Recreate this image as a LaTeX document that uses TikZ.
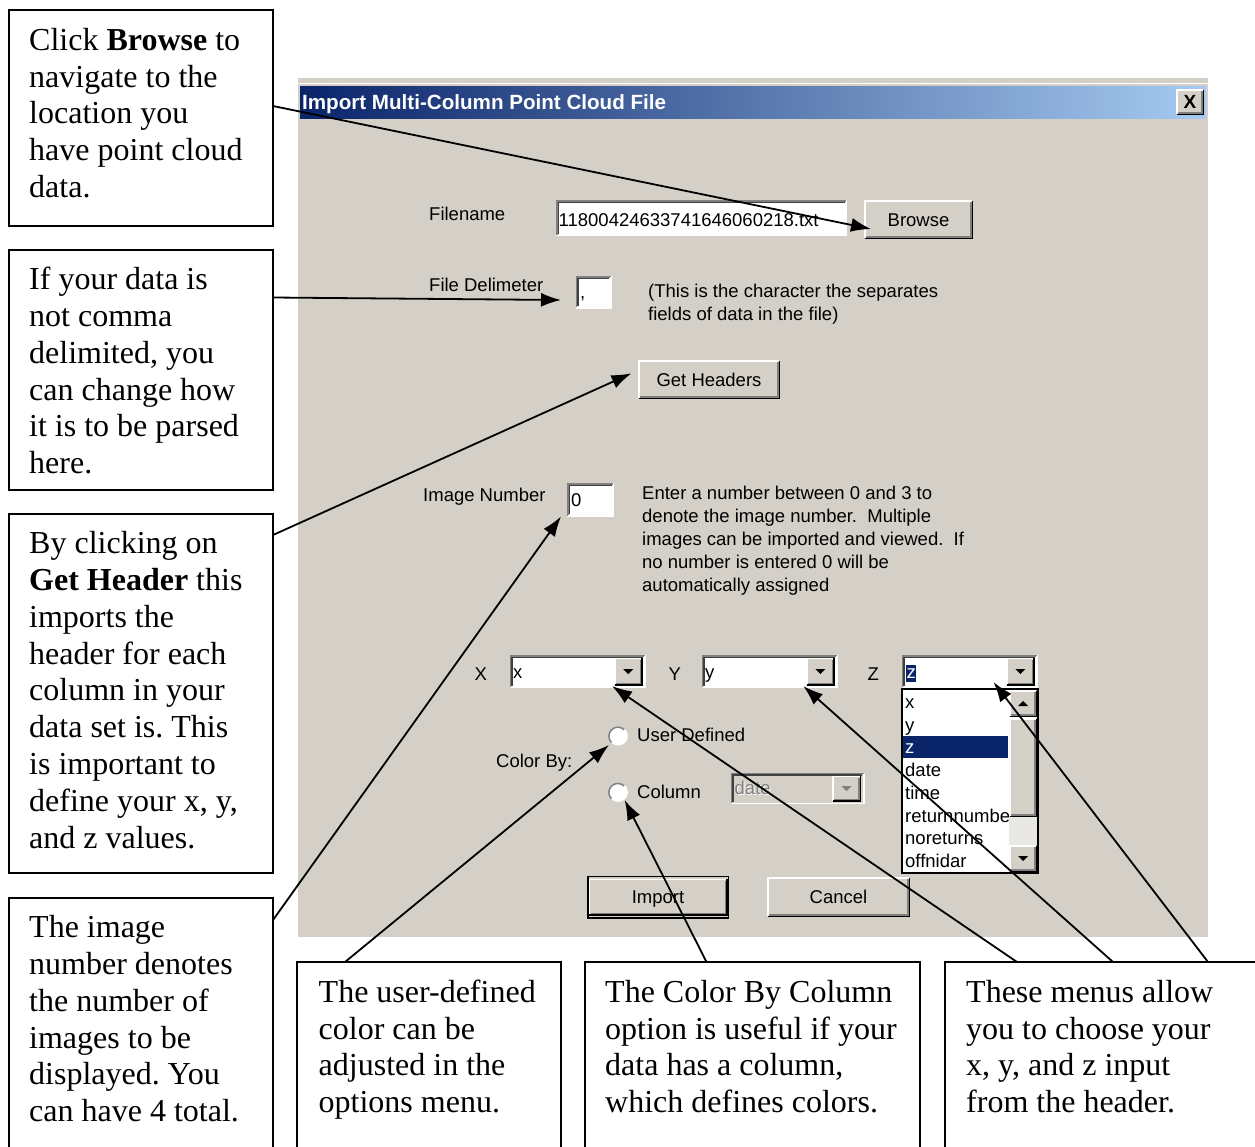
\documentclass[tikz,border=0pt]{standalone}
\usepackage{fontspec}
\setmainfont{Liberation Serif}
\newfontfamily\uifont{Liberation Sans}
\usetikzlibrary{arrows.meta,calc}
\definecolor{winbg}{HTML}{D4D0C8}
\definecolor{winshadow}{HTML}{808080}
\definecolor{windark}{HTML}{404040}
\definecolor{winnavy}{HTML}{0A246A}
\definecolor{winlight}{HTML}{A6CAF0}
\definecolor{winpattern}{HTML}{EAE8E3}
\tikzset{
 callout/.style={draw=black,line width=2pt,fill=white,inner sep=0pt,outer sep=0pt,anchor=north west},
 calltext/.style={anchor=north west,inner sep=0pt,align=left,font=\frenchspacing\fontsize{32}{36.8}\selectfont},
 ui/.style={font=\uifont\fontsize{18.5}{23}\selectfont,inner sep=0pt},
 uitext/.style={ui,anchor=base west},
 wbox/.style={inner sep=0pt,outer sep=0pt},
 btn/.style={wbox,fill=winbg,ui,text height=13.2pt,text depth=0pt},
 pointer/.style={line width=1.8pt,-{Latex[length=20pt,width=14pt]}},
}
\newcommand\winraised[2][0]{%
 \draw[white,line width=1.5pt] ([shift={({0.75+#1},{-0.75-#1})}]#2.south west) -- ([shift={({0.75+#1},{0.75+#1})}]#2.north west) -- ([shift={({-0.75-#1},{0.75+#1})}]#2.north east);
 \draw[black,line width=1.5pt] ([shift={({-0.75-#1},{0.75+#1})}]#2.north east) -- ([shift={({-0.75-#1},{-0.75-#1})}]#2.south east) -- ([shift={({0.75+#1},{-0.75-#1})}]#2.south west);
 \draw[winshadow,line width=1.5pt] ([shift={({-2.25-#1},{2.25+#1})}]#2.north east) -- ([shift={({-2.25-#1},{-2.25-#1})}]#2.south east) -- ([shift={({2.25+#1},{-2.25-#1})}]#2.south west);
}
\newcommand\winsunken[1]{%
 \draw[winshadow,line width=1.5pt] ([shift={(0.75,-0.75)}]#1.south west) -- ([shift={(0.75,0.75)}]#1.north west) -- ([shift={(-0.75,0.75)}]#1.north east);
 \draw[windark,line width=1.5pt] ([shift={(2.25,-2.25)}]#1.south west) -- ([shift={(2.25,2.25)}]#1.north west) -- ([shift={(-2.25,2.25)}]#1.north east);
 \draw[white,line width=1.5pt] ([shift={(-0.75,0.75)}]#1.north east) -- ([shift={(-0.75,-0.75)}]#1.south east) -- ([shift={(0.75,-0.75)}]#1.south west);
}
\newcommand\downtri[2]{\fill[#2] ([shift={(-5,-2.5)}]#1.center) -- ([shift={(5,-2.5)}]#1.center) -- ([shift={(0,2.5)}]#1.center) -- cycle;}
\newcommand\uptri[2]{\fill[#2] ([shift={(-5,2.5)}]#1.center) -- ([shift={(5,2.5)}]#1.center) -- ([shift={(0,-2.5)}]#1.center) -- cycle;}
\begin{document}
\begin{tikzpicture}[x=1pt,y=-1pt]
\useasboundingbox (0,0) rectangle (1255,1146);
\fill[white] (0,0) rectangle (1255,1146);

% ---------- dialog ----------
\node[wbox,fill=winbg,anchor=north west,minimum width=910,minimum height=859] (dialog) at (298,78) {};
\draw[white,line width=1.5pt] ([shift={(0,5.5)}]dialog.north west) -- ([shift={(0,5.5)}]dialog.north east);
\node[wbox,anchor=north west,minimum width=906,minimum height=32,left color=winnavy,right color=winlight] (titlebar) at (300,86) {};
\node[anchor=base west,inner sep=0pt,text=white,font=\uifont\bfseries\fontsize{20.6}{24}\selectfont] (title) at (302,109.4) {Import Multi-Column Point Cloud File};
\node[btn,minimum width=28,minimum height=26,font=\uifont\bfseries\fontsize{19}{22}\selectfont,text height=13.6pt] (close) at (1190,102) {X};
\winraised{close}

% filename
\node[uitext] (lblfile) at (429,220) {Filename};
\node[wbox,fill=white,minimum width=291,minimum height=36] (fname) at (701.5,218) {};
\winsunken{fname}
\node[uitext] (fnametxt) at (558.5,226.5) {11800424633741646060218.txt};
\node[btn,minimum width=109,minimum height=39] (browse) at (918.5,219.5) {Browse};
\winraised{browse}

% delimiter
\node[uitext] (lbldelim) at (429,291) {File Delimeter};
\node[wbox,fill=white,minimum width=36,minimum height=32.5] (delim) at (593.5,292.25) {};
\winsunken{delim}
\node[uitext] (delimtxt) at (580,298) {,};
\node[ui,anchor=north west,align=left] (delimnote) at (648,280.9) {\strut(This is the character the separates\\fields of data in the file)};

% get headers
\node[btn,minimum width=142,minimum height=39] (gethead) at (709,379.5) {Get Headers};
\winraised{gethead}

% image number
\node[uitext] (lblimg) at (423,501.5) {Image Number};
\node[wbox,fill=white,minimum width=47,minimum height=33.5] (imgnum) at (590.5,499.75) {};
\winsunken{imgnum}
\node[uitext] (imgtxt) at (571,506) {0};
\node[ui,anchor=north west,align=left] (imgdesc) at (642,482.9) {\strut Enter a number between 0 and 3 to\\denote the image number.\ \ Multiple\\images can be imported and viewed.\ \ If\\no number is entered 0 will be\\automatically assigned};

% X Y Z combos
\node[uitext] (lblx) at (474.5,680) {X};
\node[wbox,fill=white,minimum width=136,minimum height=33] (combox) at (577.5,671.5) {};
\winsunken{combox}
\node[wbox,fill=winbg,minimum width=28.5,minimum height=28] (ddx) at (628.25,671.5) {};
\winraised{ddx}
\downtri{ddx}{black}
\node[uitext] (xval) at (513,678) {x};

\node[uitext] (lbly) at (668.5,680) {Y};
\node[wbox,fill=white,minimum width=136,minimum height=33] (comboy) at (769.5,671.5) {};
\winsunken{comboy}
\node[wbox,fill=winbg,minimum width=28.5,minimum height=28] (ddy) at (820.25,671.5) {};
\winraised{ddy}
\downtri{ddy}{black}
\node[uitext] (yval) at (705,678) {y};

\node[uitext] (lblz) at (867.5,680) {Z};
\node[wbox,fill=white,minimum width=136,minimum height=33] (comboz) at (969.5,671.5) {};
\winsunken{comboz}
\node[wbox,fill=winbg,minimum width=28.5,minimum height=28] (ddz) at (1020.25,671.5) {};
\winraised{ddz}
\downtri{ddz}{black}
\node[wbox,fill=winnavy,anchor=north west,minimum width=10,minimum height=17] (zsel) at (905.5,665) {};
\node[uitext,text=white] (zval) at (906.5,678) {z};

% drop-down list
\node[wbox,fill=white,draw=black,line width=1.5pt,anchor=north west,minimum width=136,minimum height=184] (zlist) at (902,689) {};
\node[wbox,fill=winnavy,anchor=north west,minimum width=105,minimum height=22] (listsel) at (903,736) {};
\node[uitext] (li1) at (905,708.3) {x};
\node[uitext] (li2) at (905,731) {y};
\node[uitext,text=white] (li3) at (905,753.6) {z};
\node[uitext] (li4) at (905,776.5) {date};
\node[uitext] (li5) at (905,799.2) {time};
\node[uitext] (li6) at (905,822) {returnnumbe};
\node[uitext] (li7) at (905,844.8) {noreturns};
\node[uitext] (li8) at (905,867.6) {offnidar};
\node[wbox,fill=winbg,anchor=north west,minimum width=28,minimum height=27] (scrup) at (1009,690) {};
\winraised{scrup}
\uptri{scrup}{black}
\node[wbox,fill=winbg,anchor=north west,minimum width=28,minimum height=99] (scrthumb) at (1009,718) {};
\winraised{scrthumb}
\node[wbox,fill=winpattern,anchor=north west,minimum width=28,minimum height=28] (scrtrack) at (1009,817) {};
\node[wbox,fill=winbg,anchor=north west,minimum width=28,minimum height=27] (scrdown) at (1009,845) {};
\winraised{scrdown}
\downtri{scrdown}{black}

% color by
\node[circle,fill=white,minimum size=18,inner sep=0pt] (radio1) at (618,736) {};
\draw[winshadow,line width=1.5pt] (radio1.225) arc[start angle=135,end angle=315,radius=9];
\draw[white,line width=1.5pt] (radio1.45) arc[start angle=-45,end angle=135,radius=9];
\node[uitext] (lbluser) at (637,741.7) {User Defined};
\node[uitext] (lblcolor) at (496,767.5) {Color By:};
\node[circle,fill=white,minimum size=18,inner sep=0pt] (radio2) at (618,792.3) {};
\draw[winshadow,line width=1.5pt] (radio2.225) arc[start angle=135,end angle=315,radius=9];
\draw[white,line width=1.5pt] (radio2.45) arc[start angle=-45,end angle=135,radius=9];
\node[uitext] (lblcolumn) at (637,798.7) {Column};
\node[wbox,fill=winbg,minimum width=134,minimum height=31.5] (colcombo) at (797.5,788.5) {};
\winsunken{colcombo}
\node[wbox,fill=winbg,minimum width=29,minimum height=26] (colddd) at (846.5,788.5) {};
\winraised{colddd}
\downtri{colddd}{winshadow}
\node[uitext,text=white] (coldateshadow) at (735.5,795) {date};
\node[uitext,text=winshadow] (coldate) at (734.5,794) {date};

% buttons
\node[btn,minimum width=142,minimum height=40] (importbtn) at (658,897) {Import};
\winraised[1.5]{importbtn}
\draw[black,line width=1.5pt] ([shift={(0.75,-0.75)}]importbtn.north west) rectangle ([shift={(-0.75,0.75)}]importbtn.south east);
\node[btn,minimum width=143,minimum height=40] (cancelbtn) at (838.5,897) {Cancel};
\winraised{cancelbtn}

% ---------- callouts ----------
\node[callout,minimum width=264.5,minimum height=216] (box1) at (8.5,10) {};
\node[calltext] (t1) at (29,24.24) {\strut Click \textbf{Browse} to\\navigate to the\\location you\\have point cloud\\data.};
\node[callout,minimum width=264.5,minimum height=239.5] (box2) at (8.5,250) {};
\node[calltext] (t2) at (29,263.74) {\strut If your data is\\not comma\\delimited, you\\can change how\\it is to be parsed\\here.};
\node[callout,minimum width=264.5,minimum height=359] (box3) at (8.5,514) {};
\node[calltext] (t3) at (29,527.74) {\strut By clicking on\\\textbf{Get Header} this\\imports the\\header for each\\column in your\\data set is. This\\is important to\\define your x, y,\\and z values.};
\node[callout,minimum width=264.5,minimum height=262] (box4) at (8.5,898) {};
\node[calltext] (t4) at (29,911.74) {\strut The image\\number denotes\\the number of\\images to be\\displayed. You\\can have 4 total.};
\node[callout,minimum width=264,minimum height=198] (box5) at (297,962) {};
\node[calltext] (t5) at (318.5,976.24) {\strut The user-defined\\color can be\\adjusted in the\\options menu.};
\node[callout,minimum width=335.5,minimum height=198] (box6) at (584.5,962) {};
\node[calltext] (t6) at (605,976.24) {\strut The Color By Column\\option is useful if your\\data has a column,\\which defines colors.};
\node[callout,minimum width=320,minimum height=198] (box7) at (945,962) {};
\node[calltext] (t7) at (966,976.24) {\strut These menus allow\\you to choose your\\x, y, and z input\\from the header.};

% ---------- connectors ----------
\draw[pointer] ($(box1.north east)+(0,96)$) -- ($(browse.south west)+(7,-10)$);
\draw[pointer] ($(box2.north east)+(0,47.5)$) -- ($(delim.west)+(-14.5,7.75)$);
\draw[pointer] ($(box3.north east)+(0,21)$) -- ($(gethead.west)+(-6.5,-6.2)$);
\draw[pointer] ($(box4.north east)+(0,22)$) -- ($(imgnum.south west)+(-6,0)$);
\draw[pointer] ($(box5.north west)+(48,0)$) -- ($(radio1.center)+(-9,9)$);
\draw[pointer] ($(box6.north west)+(122,0)$) -- ($(radio2.center)+(6.6,7.7)$);
\draw[pointer] ($(box7.north west)+(72,0)$) -- ($(combox.south)+(34.5,-2)$);
\draw[pointer] ($(box7.north west)+(168,0)$) -- ($(comboy.south)+(33.75,-2)$);
\draw[pointer] ($(box7.north west)+(263,0)$) -- ($(comboz.south)+(24,-6)$);
\end{tikzpicture}
\end{document}
